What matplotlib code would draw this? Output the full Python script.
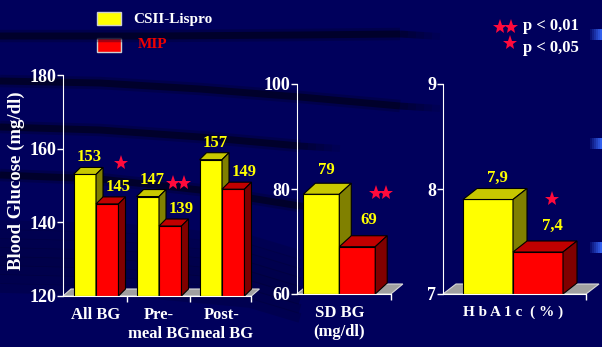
import numpy as np
import matplotlib
matplotlib.use("Agg")
import matplotlib.pyplot as plt
from matplotlib.patches import Polygon, Rectangle

W, H = 602, 347

# values
groups_bg = ["All BG", "Pre-\nmeal BG", "Post-\nmeal BG"]
csii_bg = [153, 147, 157]
mip_bg = [145, 139, 149]
sd_csii = [79]
sd_mip = [69]
hba1c_csii = [7.9]
hba1c_mip = [7.4]
hba1c_labels = ["7,9", "7,4"]

yticks_bg = [120, 140, 160, 180]
yticks_sd = [60, 80, 100]
yticks_hb = [7, 8, 9]

NAVY = "#00005c"
YEL = ("#ffff00", "#c8c800", "#808000")
RED = ("#ff0000", "#c00000", "#800000")
STAR = "#ff0a3c"
FONT = "Liberation Serif"

plt.rcParams["font.family"] = [FONT, "DejaVu Serif"]
plt.rcParams["font.weight"] = "bold"

fig = plt.figure(figsize=(W / 100, H / 100), dpi=100)
fig.patch.set_facecolor(NAVY)

# background swooshes, in pixel coordinates
bg = fig.add_axes([0, 0, 1, 1], zorder=-5)
bg.set_xlim(0, W)
bg.set_ylim(H, 0)
bg.axis("off")
bands = [
    ([0, 150, 300, 400], [36, 36, 35, 34], 5),
    ([0, 100, 200, 300, 400], [81, 83, 89, 97, 106], 5),
    ([0, 100, 200, 300], [127, 130, 137, 146], 5),
    ([0, 100, 200, 300], [175, 179, 190, 206], 5),
]
for xs, ys, lw in bands:
    bg.plot(xs, ys, color="#000030", lw=lw * 1.8, alpha=0.35, solid_capstyle="butt")
    bg.plot(xs, ys, color="#000020", lw=lw, alpha=0.75, solid_capstyle="butt")
    # fade the right end out
    for j in range(5):
        bg.plot([xs[-1] + j * 8, xs[-1] + (j + 1) * 8],
                [ys[-1] + j * 0.5, ys[-1] + (j + 1) * 0.5],
                color="#000020", lw=lw, alpha=0.6 - 0.12 * j, solid_capstyle="butt")
# soft dark sweep in the lower left
for k in range(8):
    y0 = 225 + k * 9
    bg.plot([0, 120, 250, 300], [y0, y0 + 3, y0 + 15, y0 + 30], color="#000028",
            lw=7, alpha=0.18 + 0.04 * min(k, 8 - k), solid_capstyle="butt")
# blue highlights at the right edge
for yy in (34, 143, 247):
    for j in range(6):
        bg.add_patch(Rectangle((590 + j * 2, yy - 5), 2, 11, color="#3a6cff",
                               lw=0, alpha=0.15 + 0.15 * j))


def px_axes(left, top, right, bottom):
    return fig.add_axes([left / W, 1 - bottom / H, (right - left) / W, (bottom - top) / H])


def style_axes(ax, ylim, yticks, floor_right):
    ax.set_facecolor("none")
    ax.set_ylim(*ylim)
    for s in ("top", "right"):
        ax.spines[s].set_visible(False)
    ax.spines["left"].set_color("white")
    ax.spines["bottom"].set_color("white")
    ax.spines["left"].set_bounds(*ylim)
    ax.spines["bottom"].set_bounds(ax.get_xlim()[0], floor_right)
    ax.set_yticks(yticks)
    ax.tick_params(axis="y", colors="white", length=4, width=1, pad=1, labelsize=13)
    for t in ax.get_yticklabels():
        t.set_fontweight("bold")


def px_to_data(ax, dx, dy):
    x0, x1 = ax.get_xlim()
    y0, y1 = ax.get_ylim()
    bb = ax.get_position()
    return dx * (x1 - x0) / (bb.width * W), dy * (y1 - y0) / (bb.height * H)


def floor(ax, x_left, x_right, base, dx, dy):
    ddx, ddy = px_to_data(ax, dx, dy)
    ax.add_patch(Polygon([(x_left, base), (x_right, base), (x_right + ddx, base + ddy),
                          (x_left + ddx, base + ddy)], closed=True,
                         facecolor="#a0a0a0", edgecolor="#d8d8d8", lw=0.8, clip_on=False))


def bar3d(ax, x0, w, val, base, dx, dy, cols):
    ddx, ddy = px_to_data(ax, dx, dy)
    front, top, side = cols
    ax.bar(x0, val - base, width=w, bottom=base, align="edge", color=front,
           edgecolor="black", lw=0.8, clip_on=False)
    ax.add_patch(Polygon([(x0, val), (x0 + w, val), (x0 + w + ddx, val + ddy),
                          (x0 + ddx, val + ddy)], closed=True, facecolor=top,
                         edgecolor="black", lw=0.8, clip_on=False))
    ax.add_patch(Polygon([(x0 + w, base), (x0 + w + ddx, base + ddy),
                          (x0 + w + ddx, val + ddy), (x0 + w, val)], closed=True,
                         facecolor=side, edgecolor="black", lw=0.8, clip_on=False))


def value_label(ax, x, y, text, off):
    ax.annotate(text, (x, y), xytext=off, textcoords="offset pixels",
                ha="center", va="center", color="#ffff00", fontsize=12,
                fontweight="bold")


# ---- panel 1: blood glucose
ax1 = px_axes(63, 75, 262, 296)
ax1.set_xlim(-0.524, 2.635)
style_axes(ax1, (120, 180), yticks_bg, 2.467)
bw = 0.357
x = np.arange(len(groups_bg))
floor(ax1, -0.524, 2.467, 120, 8, 7)
for i in range(len(x)):
    bar3d(ax1, x[i] - bw, bw, csii_bg[i], 120, 7, 7, YEL)
    bar3d(ax1, x[i], bw, mip_bg[i], 120, 7, 7, RED)
    value_label(ax1, x[i] - bw / 2, csii_bg[i], str(csii_bg[i]), (4, 17))
    value_label(ax1, x[i] + bw / 2, mip_bg[i], str(mip_bg[i]), (11, 17))
ax1.set_xticks(x)
ax1.set_xticklabels(groups_bg, color="white", fontsize=12, fontweight="bold",
                    linespacing=1.2, va="top")
ax1.set_xticks([0.492, 1.492, 2.467], minor=True)
ax1.tick_params(axis="x", which="major", length=0, pad=8)
ax1.tick_params(axis="x", which="minor", colors="white", length=4, width=1)
fig.text(16 / W, 1 - 181 / H, "Blood Glucose (mg/dl)", rotation=90, color="white",
         fontsize=13.5, fontweight="bold", ha="center", va="center")

# ---- panel 2: SD BG
ax2 = px_axes(297, 84, 412, 294)
ax2.set_xlim(-1.0, 1.72)
style_axes(ax2, (60, 100), yticks_sd, 1.22)
bw2 = 0.85
floor(ax2, -1.0, 1.22, 60, 12, 10)
bar3d(ax2, -bw2, bw2, sd_csii[0], 60, 12, 11, YEL)
bar3d(ax2, 0, bw2, sd_mip[0], 60, 12, 11, RED)
value_label(ax2, -bw2 / 2, sd_csii[0], str(sd_csii[0]), (5, 24))
value_label(ax2, bw2 / 2, sd_mip[0], str(sd_mip[0]), (12, 27))
ax2.set_xticks([0])
ax2.set_xticklabels(["SD BG\n(mg/dl)"], color="white", fontsize=12,
                    fontweight="bold", linespacing=1.2, va="top")
ax2.set_xticks([1.22], minor=True)
ax2.tick_params(axis="x", which="major", length=0, pad=8)
ax2.tick_params(axis="x", which="minor", colors="white", length=4, width=1)

# ---- panel 3: HbA1c
ax3 = px_axes(443, 84, 602, 294)
ax3.set_xlim(-1.4, 1.78)
style_axes(ax3, (7, 9), yticks_hb, 1.46)
bw3 = 1.0
floor(ax3, -1.4, 1.46, 7, 13, 10)
bar3d(ax3, -bw3, bw3, hba1c_csii[0], 7, 14, 11, YEL)
bar3d(ax3, 0, bw3, hba1c_mip[0], 7, 14, 11, RED)
value_label(ax3, -bw3 / 2, hba1c_csii[0], hba1c_labels[0], (9, 22))
value_label(ax3, bw3 / 2, hba1c_mip[0], hba1c_labels[1], (14, 26))
ax3.set_xticks([0])
ax3.set_xticklabels(["H b A 1 c  ( % )"], color="white", fontsize=11,
                    fontweight="bold", va="top")
ax3.set_xticks([1.46], minor=True)
ax3.tick_params(axis="x", which="major", length=0, pad=8)
ax3.tick_params(axis="x", which="minor", colors="white", length=4, width=1)

# significance stars
star_kw = dict(marker="*", color=STAR, markersize=11, markeredgewidth=0,
               ls="none", clip_on=False)
bg.plot([121], [163], **star_kw)
bg.plot([173, 184], [183, 183], **star_kw)
bg.plot([376, 386], [193, 193], **star_kw)
bg.plot([552], [199], **star_kw)
bg.plot([500, 511], [27, 27], **star_kw)
bg.plot([510], [43], **star_kw)
fig.text(523 / W, 1 - 26 / H, "p < 0,01", color="white", fontsize=12,
         fontweight="bold", va="center")
fig.text(523 / W, 1 - 48 / H, "p < 0,05", color="white", fontsize=12,
         fontweight="bold", va="center")

# legend
bg.add_patch(Rectangle((97, 12), 24, 13, facecolor=YEL[0], edgecolor="#cfcfcf", lw=1))
bg.add_patch(Rectangle((97, 38), 24, 14, facecolor=RED[0], edgecolor="#cfcfcf", lw=1))
fig.text(133 / W, 1 - 19 / H, "CSII-Lispro", color="white", fontsize=11,
         fontweight="bold", va="center")
fig.text(138 / W, 1 - 45 / H, "MIP", color="#ee0000", fontsize=11,
         fontweight="bold", va="center")

fig.savefig("out.png", dpi=100, facecolor=NAVY)
